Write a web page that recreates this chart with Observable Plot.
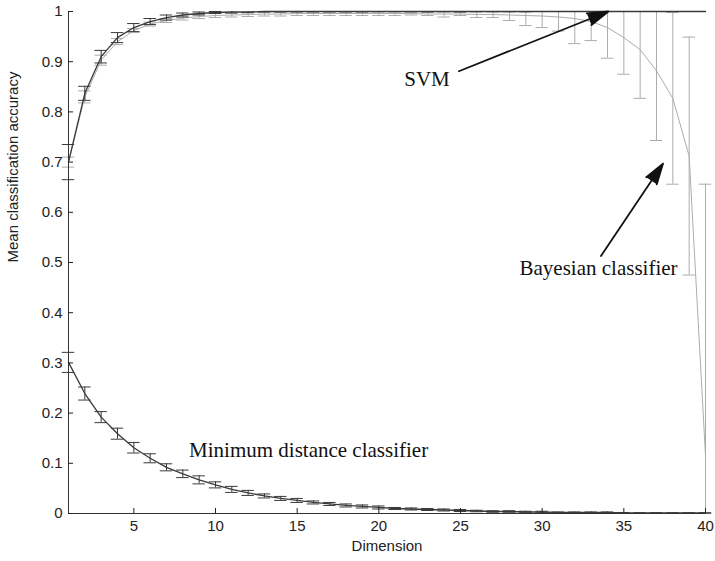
<!DOCTYPE html>
<html><head><meta charset="utf-8">
<script src="https://cdn.jsdelivr.net/npm/d3@7"></script>
<script src="https://cdn.jsdelivr.net/npm/@observablehq/plot@0.6"></script>
<style>
body{margin:0;background:#fff}
#chart{width:715px;height:561px}
</style>
</head><body><div id="chart"></div>
<script>
const dimension = [1,2,3,4,5,6,7,8,9,10,11,12,13,14,15,16,17,18,19,20,21,22,23,24,25,26,27,28,29,30,31,32,33,34,35,36,37,38,39,40];

const svmMean = [0.700,0.837,0.910,0.948,0.968,0.980,0.988,0.993,0.996,0.998,0.999,0.999,1,1,1,1,1,1,1,1,1,1,1,1,1,1,1,1,1,1,1,1,1,1,1,1,1,1,1,1];
const svmErr  = [0.035,0.014,0.0125,0.010,0.008,0.006,0.005,0.004,0.003,0.002,0.002,0.0015,0.001,0.001,0.001,0.001,0.001,0.001,0.001,0.0005,0.0005,0.0005,0.0005,0.0005,0.0005,0.0005,0.0005,0.0005,0.0005,0,0,0,0,0,0,0,0,0,0,0];

const bayesMean = [0.700,0.830,0.903,0.940,0.962,0.975,0.982,0.987,0.990,0.992,0.993,0.994,0.995,0.995,0.996,0.996,0.996,0.996,0.996,0.996,0.996,0.996,0.995,0.995,0.995,0.994,0.994,0.993,0.992,0.991,0.989,0.986,0.980,0.968,0.948,0.924,0.882,0.827,0.712,0.115];
const bayesErr  = [0.010,0.012,0.010,0.006,0.004,0.004,0.004,0.004,0.004,0.004,0.004,0.004,0.004,0.004,0.004,0.004,0.004,0.004,0.004,0.004,0.004,0.003,0.003,0.006,0.003,0.006,0.006,0.011,0.020,0.023,0.028,0.050,0.038,0.061,0.073,0.097,0.139,0.171,0.237,0.541];

const minDistMean = [0.301,0.239,0.192,0.159,0.131,0.110,0.092,0.079,0.067,0.057,0.048,0.041,0.035,0.030,0.026,0.022,0.019,0.016,0.014,0.012,0.010,0.009,0.008,0.007,0.006,0.005,0.004,0.004,0.003,0.003,0.002,0.002,0.002,0.002,0.001,0.001,0.001,0.001,0.001,0.001];
const minDistErr  = [0.020,0.013,0.011,0.011,0.0105,0.009,0.007,0.0075,0.008,0.006,0.006,0.005,0.004,0.004,0.004,0.003,0.003,0.003,0.003,0.003,0.002,0.002,0.002,0.002,0.002,0.0015,0.0015,0.0015,0.0015,0.0015,0.001,0.001,0.001,0.001,0.001,0.0005,0.0005,0.0005,0.0005,0.0005];

const xTicks = [5,10,15,20,25,30,35,40];
const yTicks = [0,0.1,0.2,0.3,0.4,0.5,0.6,0.7,0.8,0.9,1];

const labelText = ["SVM","Bayesian classifier","Minimum distance classifier"];
const labelX = [22.95, 33.45, 15.7];
const labelY = [0.865, 0.488, 0.125];

const arrowX1 = [24.9, 33.6];
const arrowY1 = [0.881, 0.513];
const arrowX2 = [34.05, 37.4];
const arrowY2 = [1.0, 0.697];

const dark = "#3a3a3a";
const light = "#acacac";
const capHalf = 0.38;

function table(mean, err) {
  return dimension.map((x, i) => ({
    x, mean: mean[i], err: err[i],
    lo: Math.max(0, mean[i] - err[i]),
    hi: Math.min(1, mean[i] + err[i])
  }));
}
const bayes = table(bayesMean, bayesErr);
const svm = table(svmMean, svmErr);
const minDist = table(minDistMean, minDistErr);

function series(rows, color, lw) {
  return [
    Plot.ruleX(rows.filter(d => d.err > 0), {x: "x", y1: "lo", y2: "hi", stroke: color, strokeWidth: 1}),
    Plot.ruleY(rows.filter(d => d.err > 0 && d.mean + d.err <= 1), {y: d => d.mean + d.err, x1: d => d.x - capHalf, x2: d => d.x + capHalf, stroke: color, strokeWidth: 1}),
    Plot.ruleY(rows.filter(d => d.err > 0 && d.mean - d.err >= 0), {y: d => d.mean - d.err, x1: d => d.x - capHalf, x2: d => d.x + capHalf, stroke: color, strokeWidth: 1}),
    Plot.line(rows, {x: "x", y: "mean", stroke: color, strokeWidth: lw})
  ];
}

const labels = labelText.map((t, i) => ({t, x: labelX[i], y: labelY[i]}));
const arrows = arrowX1.map((x1, i) => ({x1, y1: arrowY1[i], x2: arrowX2[i], y2: arrowY2[i]}));

const chart = Plot.plot({
  width: 715, height: 561,
  marginLeft: 68, marginRight: 10, marginTop: 11, marginBottom: 48,
  x: {domain: [1, 40]},
  y: {domain: [0, 1]},
  style: {fontFamily: "'Liberation Sans', Arial, sans-serif", fontSize: "15px", color: "#222", background: "#fff", overflow: "visible"},
  marks: [
    ...series(bayes, light, 1),
    ...series(svm, dark, 1.3),
    ...series(minDist, dark, 1.3),
    Plot.ruleX([1], {stroke: "#333"}),
    Plot.ruleY([0], {stroke: "#333"}),
    Plot.axisX({ticks: xTicks, tickSize: -5, tickPadding: 12, label: null, fontSize: 15}),
    Plot.axisY({ticks: yTicks, tickSize: -5, tickPadding: 11, label: null, tickFormat: d3.format("~g"), fontSize: 15}),
    Plot.text(["Mean classification accuracy"], {frameAnchor: "left", dx: -55, rotate: -90, fontSize: 15, fill: "#222"}),
    Plot.text(["Dimension"], {frameAnchor: "bottom", dy: 37, fontSize: 15, fill: "#222"}),
    Plot.arrow(arrows, {x1: "x1", y1: "y1", x2: "x2", y2: "y2", stroke: "#111", fill: "#111", strokeWidth: 1.8, headLength: 18, headAngle: 34}),
    Plot.text(labels, {x: "x", y: "y", text: "t", fontFamily: "'Liberation Serif', 'Times New Roman', serif", fontSize: 21, fill: "#111"})
  ]
});
document.getElementById("chart").append(chart);
</script>
</body></html>
